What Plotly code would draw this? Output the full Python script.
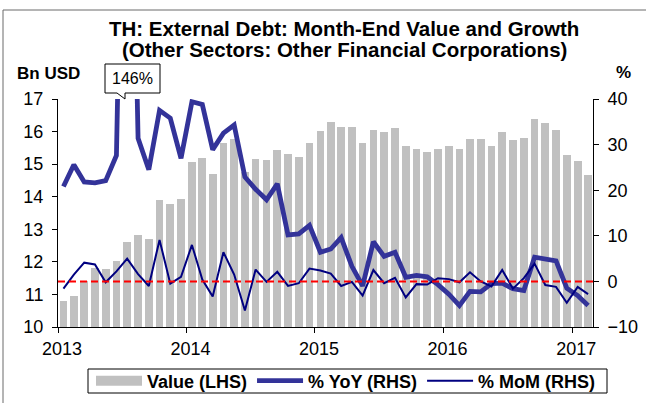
import pandas as pd
import plotly.graph_objects as go

# ---- data ----
months = pd.date_range("2013-01-01", periods=50, freq="MS").strftime("%Y-%m-%d").tolist()

value_bn_usd = [10.81, 10.95, 11.42, 11.81, 11.78, 12.02, 12.62, 12.83, 12.71, 13.89, 13.79, 13.94,
                15.06, 15.20, 14.70, 15.66, 15.78, 14.76, 15.16, 15.13, 15.44, 15.30, 15.22, 15.65,
                16.03, 16.30, 16.13, 16.15, 15.65, 16.05, 15.98, 16.11, 15.56, 15.48, 15.36, 15.47,
                15.55, 15.46, 15.78, 15.77, 15.57, 15.98, 15.75, 15.79, 16.38, 16.25, 16.04, 15.27,
                15.10, 14.67]

yoy_pct = [20.8, 25.6, 21.8, 21.6, 22.1, 27.6, 146.0, 31.4, 24.5, 37.5, 35.8, 27.0,
           39.4, 38.8, 28.9, 32.5, 34.3, 22.9, 20.2, 17.9, 21.4, 10.2, 10.4, 12.3,
           6.4, 7.1, 9.6, 3.3, -1.0, 8.7, 5.5, 6.4, 0.9, 1.3, 1.0, -0.7,
           -2.8, -5.3, -2.2, -2.3, -0.5, -0.4, -1.6, -2.0, 5.3, 5.0, 4.5, -1.5,
           -3.1, -5.3]

mom_pct = [-1.6, 1.5, 4.1, 3.7, -0.2, 2.2, 5.0, 1.6, -1.0, 9.1, -0.5, 1.0,
           8.0, 0.4, -3.3, 6.4, 1.5, -6.4, 2.6, -0.1, 2.1, -1.0, -0.4, 2.8,
           2.4, 1.7, -1.0, -0.1, -3.1, 2.5, -0.4, 0.8, -3.5, -0.6, -0.7, 0.7,
           0.5, -0.2, 2.0, 0.0, -1.1, 2.5, -1.6, 0.7, 3.9, -0.8, -1.2, -4.7,
           -1.2, -2.8]

year_ticks = ["2013-01-01", "2014-01-01", "2015-01-01", "2016-01-01", "2017-01-01"]
year_labels = ["2013", "2014", "2015", "2016", "2017"]

title_line1 = "TH: External Debt: Month-End Value and Growth"
title_line2 = "(Other Sectors: Other Financial Corporations)"
peak_label = "146%"

# ---- layout helpers ----
W, H = 646, 403
L, R, T, B = 58, 53, 99, 76
PW, PH = W - L - R, H - T - B


def px(x):
    return (x - L) / PW


def py(y):
    return (H - B - y) / PH


FONT = "Liberation Sans, Arial, sans-serif"
GREY = "#C0C0C0"
YOY_C = "#333399"
MOM_C = "#000080"

month_ms = 30.44 * 24 * 3600 * 1000

fig = go.Figure()
fig.add_trace(go.Bar(
    x=months, y=value_bn_usd, name="Value (LHS)", marker_color=GREY,
    marker_line_width=0, width=0.72 * month_ms,
    xperiod="M1", xperiodalignment="middle", showlegend=False, yaxis="y"))
# legend swatch for the bars (wide grey block, as in the reference legend)
fig.add_trace(go.Scatter(
    x=[None], y=[None], mode="lines", name="Value (LHS)",
    line=dict(color=GREY, width=10), yaxis="y"))
fig.add_trace(go.Scatter(
    x=months, y=yoy_pct, name="% YoY (RHS)", mode="lines",
    line=dict(color=YOY_C, width=4.8), xperiod="M1", xperiodalignment="middle",
    yaxis="y2"))
fig.add_trace(go.Scatter(
    x=months, y=mom_pct, name="% MoM (RHS)", mode="lines",
    line=dict(color=MOM_C, width=2), xperiod="M1", xperiodalignment="middle",
    yaxis="y2"))

axis_common = dict(showline=True, linecolor="black", linewidth=1, ticks="outside",
                   ticklen=5, tickcolor="black", showgrid=False, zeroline=False,
                   tickfont=dict(family=FONT, size=18, color="black"))

fig.update_layout(
    width=W, height=H,
    margin=dict(l=L, r=R, t=T, b=B, pad=0, autoexpand=False),
    paper_bgcolor="white", plot_bgcolor="white",
    font=dict(family=FONT, color="black"),
    bargap=0,
    xaxis=dict(type="date", range=["2013-01-01", "2017-03-01"],
               tickmode="array", tickvals=year_ticks, ticktext=year_labels,
               ticklabelshift=4, **axis_common),
    yaxis=dict(range=[10, 17], dtick=1, tick0=10, ticklabelstandoff=5, **axis_common),
    yaxis2=dict(range=[-10, 40], dtick=10, tick0=-10, overlaying="y", side="right",
                ticklabelstandoff=5, **axis_common),
    legend=dict(orientation="h", x=px(346), xanchor="center", y=py(381), yanchor="middle",
                borderwidth=0, bgcolor="rgba(0,0,0,0)",
                font=dict(family=FONT, size=18, color="black", weight="bold"),
                itemwidth=46, traceorder="normal"),
    showlegend=True,
)

# zero line on the right axis
fig.add_shape(type="line", xref="paper", x0=0, x1=1, yref="y2", y0=0, y1=0,
              line=dict(color="#FF0000", width=2, dash="7px,4px"), layer="above")

# outer frame (left and top edges)
fig.add_shape(type="path", xref="paper", yref="paper",
              path=f"M {px(3)},{py(410)} L {px(3)},{py(10)} L {px(650)},{py(10)}",
              line=dict(color="#6b6b6b", width=1))

# legend frame
fig.add_shape(type="rect", xref="paper", yref="paper",
              x0=px(88), x1=px(607), y0=py(369), y1=py(393),
              line=dict(color="black", width=1), fillcolor="rgba(0,0,0,0)", layer="below")

# callout for the off-scale peak
fig.add_shape(type="path", xref="paper", yref="paper",
              path=(f"M {px(105)},{py(64)} L {px(160)},{py(64)} L {px(160)},{py(93)} "
                    f"L {px(125)},{py(93)} L {px(125)},{py(99)} L {px(117)},{py(93)} "
                    f"L {px(105)},{py(93)} Z"),
              fillcolor="white", line=dict(color="black", width=1), layer="above")
fig.add_annotation(xref="paper", yref="paper", x=px(132.5), y=py(79),
                   xanchor="center", yanchor="middle",
                   text=peak_label, showarrow=False,
                   font=dict(family=FONT, size=16, color="black"))

# titles and axis captions
fig.add_annotation(xref="paper", yref="paper", x=px(344), y=py(29), text=title_line1,
                   xanchor="center", yanchor="middle", showarrow=False, borderpad=0,
                   font=dict(family=FONT, size=20.5, color="black", weight="bold"))
fig.add_annotation(xref="paper", yref="paper", x=px(344), y=py(49.5), text=title_line2,
                   xanchor="center", yanchor="middle", showarrow=False, borderpad=0,
                   font=dict(family=FONT, size=20.5, color="black", weight="bold"))
fig.add_annotation(xref="paper", yref="paper", x=px(15), xanchor="left", y=py(73),
                   yanchor="middle", text="Bn USD", showarrow=False,
                   font=dict(family=FONT, size=17, color="black", weight="bold"))
fig.add_annotation(xref="paper", yref="paper", x=px(623), y=py(72), text="%",
                   xanchor="center", yanchor="middle", showarrow=False,
                   font=dict(family=FONT, size=17, color="black", weight="bold"))

fig.write_html(
    "out.html",
    config={"displayModeBar": False},
    post_script="document.body.style.margin='0px';document.body.style.overflow='hidden';",
)
